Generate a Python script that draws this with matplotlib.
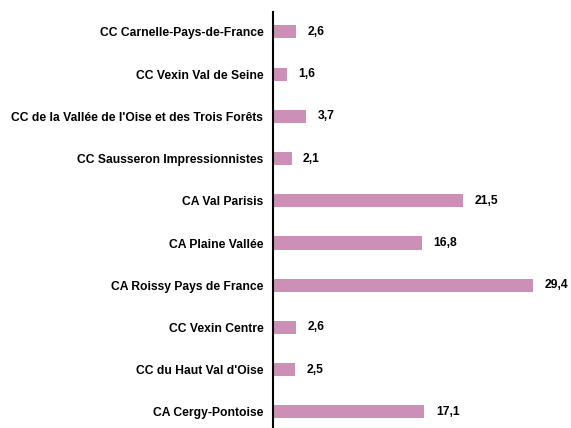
import matplotlib.pyplot as plt
import numpy as np

labels = ["CC Carnelle-Pays-de-France", "CC Vexin Val de Seine",
          "CC de la Vallée de l'Oise et des Trois Forêts", "CC Sausseron Impressionnistes",
          "CA Val Parisis", "CA Plaine Vallée", "CA Roissy Pays de France",
          "CC Vexin Centre", "CC du Haut Val d'Oise", "CA Cergy-Pontoise"]
values = [2.6, 1.6, 3.7, 2.1, 21.5, 16.8, 29.4, 2.6, 2.5, 17.1]

plt.rcParams['font.family'] = ['Liberation Sans', 'DejaVu Sans']

fig = plt.figure(figsize=(5.71, 4.28), dpi=100)
ax = fig.add_axes([273/571, 0, 1 - 273/571 - 0.01, 1 - 12/428])

pos = np.arange(len(labels))[::-1]
ax.barh(pos, values, height=0.31, color='#CC8FB5')

for p, v in zip(pos, values):
    ax.text(v + 1.3, p, f"{v:.1f}".replace('.', ','), va='center', ha='left',
            fontsize=8.75, fontweight='bold')

ax.set_yticks(pos)
ax.set_yticklabels(labels, fontsize=8.75, fontweight='bold')
ax.tick_params(axis='y', length=0, pad=7)
ax.set_xticks([])
ax.set_xlim(0, 33)
ax.set_ylim(-0.38, 9.47)
for side in ['top', 'right', 'bottom']:
    ax.spines[side].set_visible(False)
ax.spines['left'].set_linewidth(1.5)

fig.savefig('out.png', dpi=100)
